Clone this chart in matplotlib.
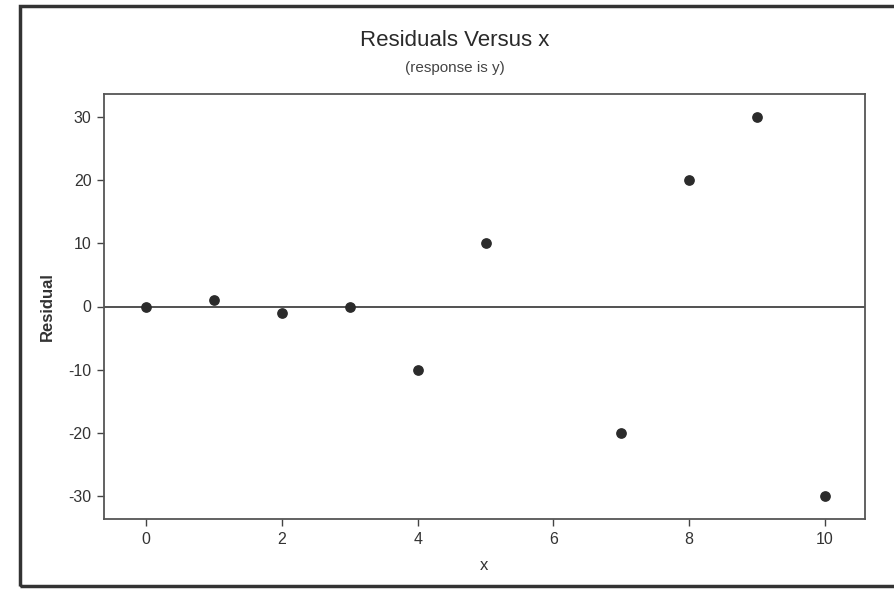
import matplotlib
matplotlib.use("Agg")
import matplotlib.pyplot as plt
from matplotlib.patches import Rectangle

x = [0, 1, 2, 3, 4, 5, 7, 8, 9, 10]
residual = [0, 1, -1, 0, -10, 10, -20, 20, 30, -30]
xticks = [0, 2, 4, 6, 8, 10]
yticks = [-30, -20, -10, 0, 10, 20, 30]

plt.rcParams['font.family'] = ['Liberation Sans', 'DejaVu Sans']
plt.rcParams['axes.unicode_minus'] = False

fig = plt.figure(figsize=(8.94, 5.91), dpi=100)
ax = fig.add_axes([104/894, 1-519/591, (865-104)/894, (519-94)/591])

ax.axhline(0, color='#333333', lw=1.2, zorder=1)
ax.scatter(x, residual, s=45, color='#2b2b2b', zorder=3)

ax.set_xlim(-0.62, 10.59)
ax.set_ylim(-33.6, 33.6)
ax.set_xticks(xticks)
ax.set_yticks(yticks)
ax.tick_params(direction='out', length=5, width=1, colors='#444444',
               labelsize=11.5, labelcolor='#333333', pad=4)
for s in ax.spines.values():
    s.set_color('#555555')
    s.set_linewidth(1.3)

ax.set_xlabel('x', fontsize=12, color='#333333', labelpad=8)
ax.set_ylabel('Residual', fontsize=12, fontweight='bold', color='#333333', labelpad=10)

fig.text(455/894, 1-40/591, 'Residuals Versus x', ha='center', va='center',
         fontsize=16, color='#2a2a2a')
fig.text(455/894, 1-68/591, '(response is y)', ha='center', va='center',
         fontsize=11, color='#444444')

# outer frame of the scanned figure
fig.patches.append(Rectangle((20/894, 1-586/591), 1.0, (586-6)/591,
                             transform=fig.transFigure, fill=False,
                             edgecolor='#333333', lw=2.5))

fig.savefig('out.png', dpi=100)
